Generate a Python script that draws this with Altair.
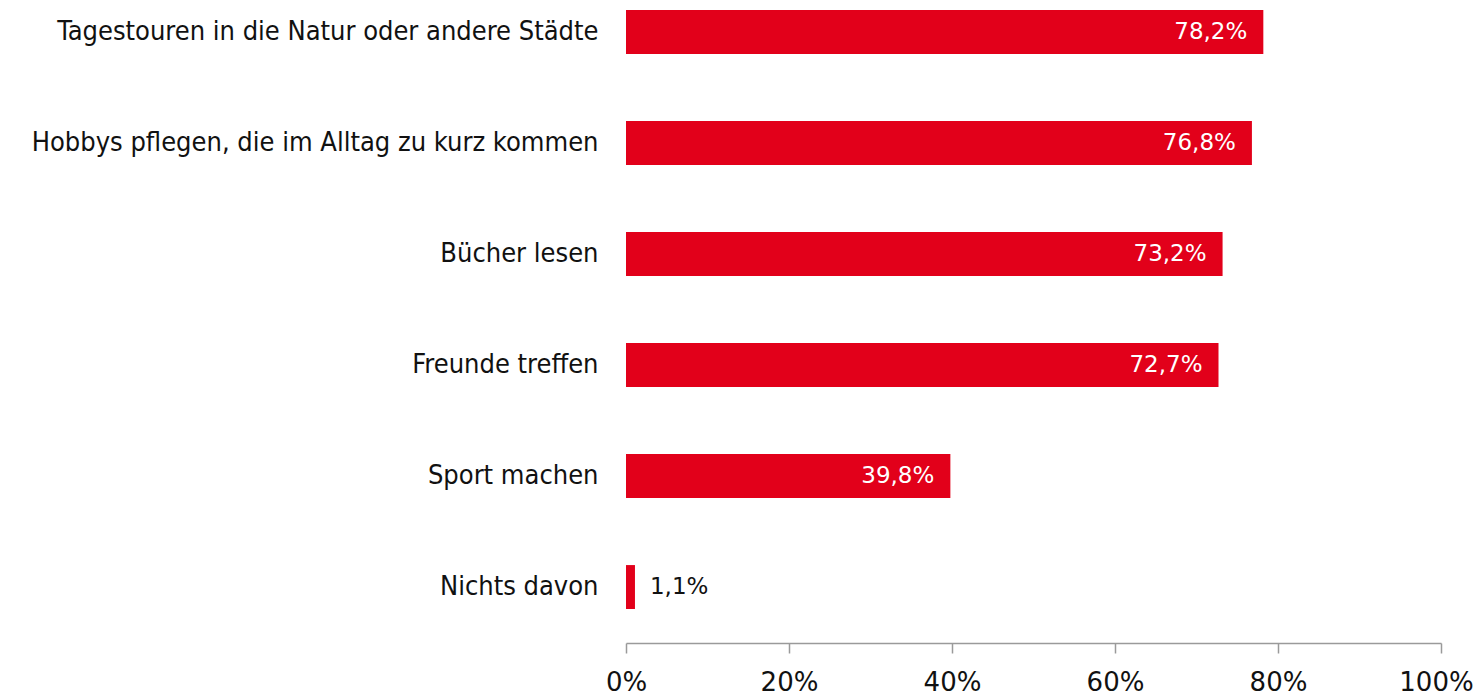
import altair as alt
import pandas as pd

categories = [
    "Tagestouren in die Natur oder andere Städte",
    "Hobbys pflegen, die im Alltag zu kurz kommen",
    "Bücher lesen",
    "Freunde treffen",
    "Sport machen",
    "Nichts davon",
]
values = [78.2, 76.8, 73.2, 72.7, 39.8, 1.1]
x_ticks = [0, 20, 40, 60, 80, 100]

labels = [f"{v:.1f}".replace(".", ",") + "%" for v in values]
df = pd.DataFrame({"cat": categories, "val": values, "lab": labels})

RED = "#e2001a"

y_enc = alt.Y(
    "cat:N",
    sort=None,
    title=None,
    scale=alt.Scale(paddingInner=0.604, paddingOuter=0.153, align=0),
    axis=alt.Axis(
        domain=False,
        ticks=False,
        tickSize=0,
        labelPadding=28,
        labelFont="DejaVu Sans Condensed",
        labelFontSize=27,
        labelColor="#111111",
        labelLimit=700,
    ),
)
x_enc = alt.X(
    "val:Q",
    title=None,
    scale=alt.Scale(domain=[0, 100], nice=False),
    axis=alt.Axis(
        values=x_ticks,
        labelExpr="datum.value + '%'",
        grid=False,
        domainColor="#9a9a9a",
        domainWidth=1.5,
        tickColor="#9a9a9a",
        tickWidth=1.5,
        tickSize=10,
        labelPadding=16,
        labelFont="DejaVu Sans",
        labelFontSize=26,
        labelColor="#111111",
        labelFlush=False,
        labelBound=False,
        labelOffset={"condition": {"test": "datum.value == 100", "value": -5}, "value": 0},
    ),
)

bars = alt.Chart(df).mark_bar(color=RED).encode(x=x_enc, y=y_enc)

inside = (
    alt.Chart(df)
    .transform_filter("datum.val > 5")
    .mark_text(align="right", baseline="middle", dx=-16, color="white",
               font="DejaVu Sans", fontSize=23)
    .encode(x="val:Q", y=alt.Y("cat:N", sort=None), text="lab:N")
)
outside = (
    alt.Chart(df)
    .transform_filter("datum.val <= 5")
    .mark_text(align="left", baseline="middle", dx=15, color="#111111",
               font="DejaVu Sans", fontSize=23)
    .encode(x="val:Q", y=alt.Y("cat:N", sort=None), text="lab:N")
)

chart = (
    alt.layer(bars, inside, outside)
    .properties(
        width=815,
        height=633,
        autosize=alt.AutoSizeParams(type="none"),
        padding={"left": 618, "top": 2, "right": 34, "bottom": 55},
    )
    .configure_view(stroke=None)
)

chart.save("out.html", embed_options={"renderer": "svg", "actions": False})
